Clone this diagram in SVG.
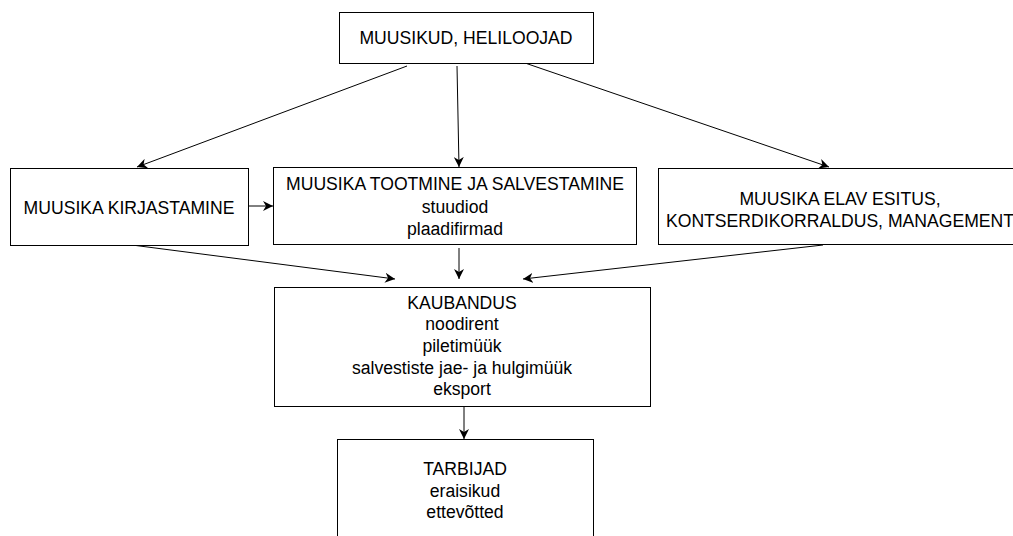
<svg xmlns="http://www.w3.org/2000/svg" width="1013" height="536" viewBox="0 0 1013 536">
<defs>
<style>
.box{fill:#fff;stroke:#000;stroke-width:1}
.t{font-family:"Liberation Sans",Arial,sans-serif;font-size:17.6px;fill:#000;text-anchor:middle}
.c{stroke:#000;stroke-width:1;fill:none;marker-end:url(#ah)}
</style>
<marker id="ah" viewBox="0 0 10 10" refX="10" refY="5" markerWidth="10" markerHeight="10" markerUnits="userSpaceOnUse" orient="auto">
<path d="M0,0 L10,5 L0,10 L3,5 Z" fill="#000"/>
</marker>
</defs>
<rect width="1013" height="536" fill="#fff"/>
<g id="connectors">
<line class="c" x1="407" y1="66" x2="137" y2="167"/>
<line class="c" x1="457" y1="66" x2="459" y2="167"/>
<line class="c" x1="525" y1="63" x2="829" y2="167"/>
<line class="c" x1="248" y1="206" x2="273" y2="206"/>
<line class="c" x1="132" y1="245" x2="395" y2="279"/>
<line class="c" x1="459" y1="248" x2="459" y2="279"/>
<line class="c" x1="823" y1="245" x2="523" y2="279"/>
<line class="c" x1="464" y1="406" x2="464" y2="439"/>
</g>
<g id="n-muusikud">
<rect class="box" x="339.5" y="12.5" width="254" height="51"/>
<text class="t" x="466" y="43.5">MUUSIKUD, HELILOOJAD</text>
</g>
<g id="n-kirjastamine">
<rect class="box" x="10.5" y="168.5" width="238" height="77"/>
<text class="t" x="129" y="213.5">MUUSIKA KIRJASTAMINE</text>
</g>
<g id="n-tootmine">
<rect class="box" x="273.5" y="167.5" width="363" height="77"/>
<text class="t" x="455" y="190">MUUSIKA TOOTMINE JA SALVESTAMINE</text>
<text class="t" x="455" y="213">stuudiod</text>
<text class="t" x="455" y="235">plaadifirmad</text>
</g>
<g id="n-elav">
<rect class="box" x="658.5" y="168.5" width="364" height="76"/>
<text class="t" x="840" y="205">MUUSIKA ELAV ESITUS,</text>
<text class="t" x="840" y="227">KONTSERDIKORRALDUS, MANAGEMENT</text>
</g>
<g id="n-kaubandus">
<rect class="box" x="274.5" y="287.5" width="376" height="119"/>
<text class="t" x="462" y="308.5">KAUBANDUS</text>
<text class="t" x="462" y="330">noodirent</text>
<text class="t" x="462" y="352">piletimüük</text>
<text class="t" x="462" y="374">salvestiste jae- ja hulgimüük</text>
<text class="t" x="462" y="395">eksport</text>
</g>
<g id="n-tarbijad">
<rect class="box" x="337.5" y="439.5" width="256" height="110"/>
<text class="t" x="465" y="475">TARBIJAD</text>
<text class="t" x="465" y="497">eraisikud</text>
<text class="t" x="465" y="518">ettevõtted</text>
</g>
</svg>
